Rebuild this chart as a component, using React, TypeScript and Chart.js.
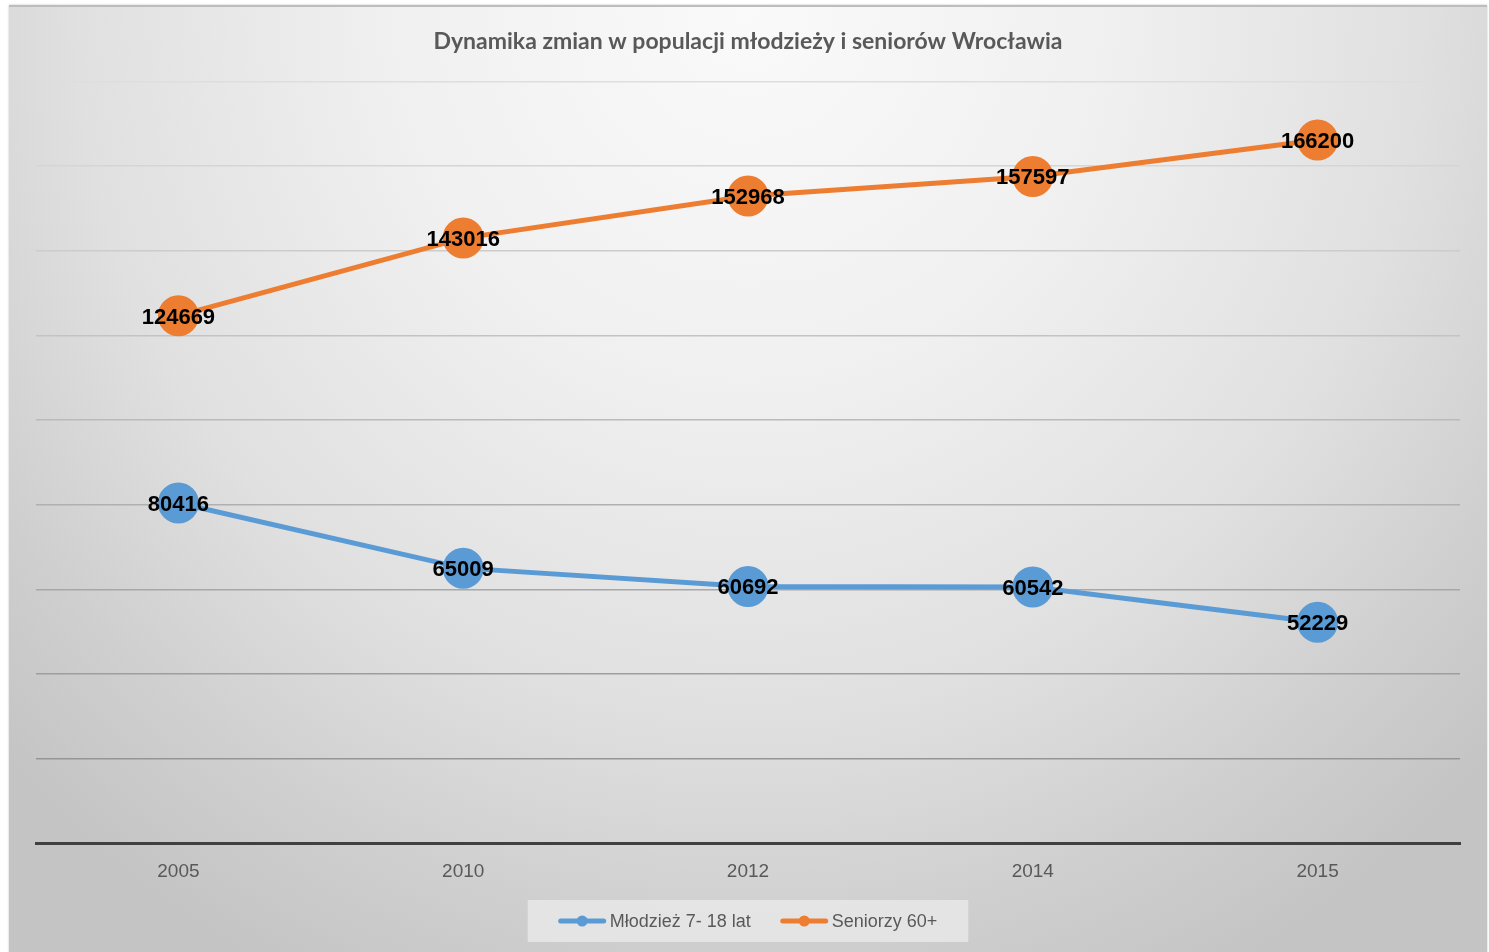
import React, { useEffect, useRef } from "react";
import { Chart, registerables } from "chart.js";

Chart.register(...registerables);

const TITLE = "Dynamika zmian w populacji młodzieży i seniorów Wrocławia";
const YEARS = ["2005", "2010", "2012", "2014", "2015"];
const YOUTH_LABEL = "Młodzież 7- 18 lat";
const YOUTH = [80416, 65009, 60692, 60542, 52229];
const SENIOR_LABEL = "Seniorzy 60+";
const SENIOR = [124669, 143016, 152968, 157597, 166200];
const Y_MIN = 0;
const Y_MAX = 180000;
const Y_STEP = 20000;

const BLUE = "#5b9bd5";
const ORANGE = "#ed7d31";
const TEXT_GRAY = "#595959";

const dataLabelPlugin = {
  id: "dataLabels",
  afterDatasetsDraw(chart: any) {
    const ctx = chart.ctx;
    ctx.save();
    ctx.font = "bold 22px 'Liberation Sans', Arial, sans-serif";
    ctx.fillStyle = "#000000";
    ctx.textAlign = "center";
    ctx.textBaseline = "middle";
    chart.data.datasets.forEach((ds: any, i: number) => {
      const meta = chart.getDatasetMeta(i);
      meta.data.forEach((pt: any, j: number) => {
        ctx.fillText(String(ds.data[j]), pt.x, pt.y + 2);
      });
    });
    ctx.restore();
  },
};

const legendPlugin = {
  id: "customLegend",
  afterDraw(chart: any) {
    const ctx = chart.ctx;
    const ds = chart.data.datasets;
    ctx.save();
    ctx.font = "18px 'Liberation Sans', Arial, sans-serif";
    const lineW = 47;
    const gapText = 4;
    const gapItems = 30;
    const widths = ds.map((d: any) => lineW + gapText + ctx.measureText(d.label).width);
    const total = widths.reduce((a: number, b: number) => a + b, 0) + gapItems * (ds.length - 1);
    const cx = chart.width / 2;
    const cy = 914;
    const padX = 31;
    const boxH = 42;
    ctx.fillStyle = "rgba(235,235,235,0.75)";
    ctx.fillRect(cx - total / 2 - padX, cy - boxH / 2, total + padX * 2, boxH);
    let x = cx - total / 2;
    ds.forEach((d: any, i: number) => {
      ctx.strokeStyle = d.borderColor;
      ctx.lineWidth = 5;
      ctx.lineCap = "round";
      ctx.beginPath();
      ctx.moveTo(x + 2, cy);
      ctx.lineTo(x + lineW - 2, cy);
      ctx.stroke();
      ctx.fillStyle = d.borderColor;
      ctx.beginPath();
      ctx.arc(x + lineW / 2, cy, 5.5, 0, Math.PI * 2);
      ctx.fill();
      ctx.fillStyle = TEXT_GRAY;
      ctx.textAlign = "left";
      ctx.textBaseline = "middle";
      ctx.fillText(d.label, x + lineW + gapText, cy + 1);
      x += widths[i] + gapItems;
    });
    ctx.restore();
  },
};

function gridColor(value: number): string {
  if (value === Y_MIN) return "rgba(0,0,0,0)";
  const t = (value - Y_MIN) / (Y_MAX - Y_MIN);
  const c = Math.round(140 + t * (222 - 140));
  return `rgb(${c},${c},${c})`;
}

export default function App() {
  const ref = useRef<HTMLCanvasElement | null>(null);

  useEffect(() => {
    if (!ref.current) return;
    const chart = new Chart(ref.current, {
      type: "line",
      data: {
        labels: YEARS,
        datasets: [
          {
            label: YOUTH_LABEL,
            data: YOUTH,
            borderColor: BLUE,
            backgroundColor: BLUE,
            pointBackgroundColor: BLUE,
            pointBorderColor: BLUE,
            borderWidth: 5,
            pointRadius: 18,
            pointHoverRadius: 18,
            tension: 0,
          },
          {
            label: SENIOR_LABEL,
            data: SENIOR,
            borderColor: ORANGE,
            backgroundColor: ORANGE,
            pointBackgroundColor: ORANGE,
            pointBorderColor: ORANGE,
            borderWidth: 5,
            pointRadius: 18,
            pointHoverRadius: 18,
            tension: 0,
          },
        ],
      },
      options: {
        animation: false,
        responsive: true,
        maintainAspectRatio: false,
        layout: { padding: { left: 27, right: 27, top: 0, bottom: 52 } },
        plugins: {
          legend: { display: false },
          tooltip: { enabled: false },
          title: {
            display: true,
            text: TITLE,
            color: TEXT_GRAY,
            font: { family: "Lato, 'Liberation Sans', sans-serif", size: 23, weight: "bold" },
            padding: { top: 21, bottom: 26 },
          },
        },
        scales: {
          x: {
            offset: true,
            grid: { display: false, drawTicks: false },
            border: { display: true, color: "#404040", width: 3 },
            ticks: {
              color: TEXT_GRAY,
              padding: 17,
              font: { family: "'Liberation Sans', Arial, sans-serif", size: 19 },
            },
          },
          y: {
            min: Y_MIN,
            max: Y_MAX,
            ticks: { display: false, stepSize: Y_STEP },
            border: { display: false },
            grid: {
              drawTicks: false,
              lineWidth: 1.5,
              color: (c: any) => gridColor(c.tick ? c.tick.value : 0),
            },
          },
        },
      },
      plugins: [dataLabelPlugin, legendPlugin],
    });
    return () => chart.destroy();
  }, []);

  return (
    <div
      style={{
        position: "absolute",
        left: 9,
        top: 5,
        width: 1478,
        height: 947,
        borderTop: "2px solid #bdbdbd",
        boxSizing: "border-box",
        boxShadow: "0 0 2px rgba(0,0,0,0.25)",
        background:
          "radial-gradient(ellipse 70% 115% at 50% 0%, #fafafa 0%, #f0f0f0 35%, #e0e0e0 65%, #cfcfcf 85%, #c4c4c4 100%)",
      }}
    >
      <canvas ref={ref} />
    </div>
  );
}
